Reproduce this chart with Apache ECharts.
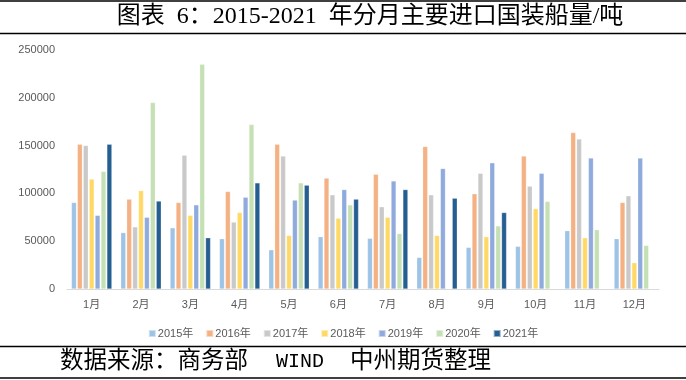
<!DOCTYPE html>
<html><head><meta charset="utf-8">
<script src="https://cdn.jsdelivr.net/npm/echarts@6/dist/echarts.min.js"></script>
<style>html,body{margin:0;padding:0;background:#fff}#c{width:686px;height:380px}</style>
</head><body><div id="c"></div>
<script>
const months = ['1月','2月','3月','4月','5月','6月','7月','8月','9月','10月','11月','12月'];
const y2015 = [90500, 59000, 64000, 52600, 41000, 54700, 53000, 33000, 43500, 44600, 61000, 52600];
const y2016 = [151500, 94000, 90500, 102000, 151500, 116000, 120000, 149000, 99600, 139000, 163600, 90500];
const y2017 = [150000, 65000, 140000, 70000, 139000, 98500, 86000, 98500, 121000, 107600, 157000, 97500];
const y2018 = [115000, 103000, 77000, 80000, 56000, 74000, 75000, 56000, 54700, 84000, 53600, 27500];
const y2019 = [77000, 75000, 88000, 96000, 93000, 104000, 113000, 126000, 132000, 121000, 137000, 137000];
const y2020 = [123000, 195000, 235000, 172000, 111000, 88000, 58000, null, 66000, 91600, 62000, 45600];
const y2021 = [151500, 92000, 53600, 111000, 108600, 94000, 104000, 95000, 80000, null, null, null];
const seriesNames = ['2015年','2016年','2017年','2018年','2019年','2020年','2021年'];
const seriesData = [y2015, y2016, y2017, y2018, y2019, y2020, y2021];
const colors = ['#9DC3E6','#F4B183','#C9C9C9','#FFD966','#8FAADC','#C5E0B4','#255E91'];
const yTicks = [0, 50000, 100000, 150000, 200000, 250000];
const titleText = '图表\u20026：2015-2021\u2002年分月主要进口国装船量/吨';
const sourceParts = ['数据来源：商务部', 'WIND', '中州期货整理'];

const chart = echarts.init(document.getElementById('c'), null, {renderer:'canvas'});
const serif = '"Liberation Serif", "Noto Sans CJK SC", serif';
const mono = '"Liberation Mono", "Noto Sans CJK SC", monospace';
const sans = '"Liberation Sans", "Noto Sans CJK SC", sans-serif';
chart.setOption({
  animation: false,
  color: colors,
  grid: {left: 67, right: 27, top: 50, bottom: 91},
  legend: {
    data: seriesNames, bottom: 36, left: 'center',
    itemWidth: 7, itemHeight: 7, itemGap: 12, icon: 'rect',
    textStyle: {fontSize: 11, color: '#595959', fontFamily: sans, padding: [0,0,0,-3]}
  },
  xAxis: {
    type: 'category', data: months,
    axisLine: {lineStyle: {color: '#D9D9D9', width: 1}},
    axisTick: {show: false},
    axisLabel: {fontSize: 11, color: '#595959', fontFamily: sans, margin: 10}
  },
  yAxis: {
    type: 'value', min: yTicks[0], max: yTicks[yTicks.length-1], interval: yTicks[1]-yTicks[0],
    splitLine: {show: false}, axisLine: {show: false}, axisTick: {show: false},
    axisLabel: {fontSize: 11, color: '#595959', fontFamily: sans, margin: 12, formatter: v => String(v)}
  },
  series: seriesNames.map((n, i) => ({
    name: n, type: 'bar', data: seriesData[i],
    barCategoryGap: '18%', barGap: '18%',
    itemStyle: {color: colors[i], borderColor: 'rgba(255,255,255,0.5)', borderWidth: 0.5}
  })),
  graphic: [
    {type: 'line', shape: {x1: 0, y1: 1, x2: 686, y2: 1}, style: {stroke: '#000', lineWidth: 1.5}},
    {type: 'text', x: 370, y: 17, style: {text: titleText, font: '24px ' + serif, fill: '#000', textAlign: 'center', textVerticalAlign: 'middle'}},
    {type: 'line', shape: {x1: 0, y1: 33.5, x2: 686, y2: 33.5}, style: {stroke: '#000', lineWidth: 1.5}},
    {type: 'line', shape: {x1: 0, y1: 346.5, x2: 686, y2: 346.5}, style: {stroke: '#000', lineWidth: 1.5}},
    {type: 'text', x: 60, y: 362, style: {text: sourceParts[0], font: '23.5px ' + serif, fill: '#000', textVerticalAlign: 'middle'}},
    {type: 'text', x: 276, y: 362, style: {text: sourceParts[1], font: '20px ' + mono, fill: '#000', textVerticalAlign: 'middle'}},
    {type: 'text', x: 350, y: 362, style: {text: sourceParts[2], font: '23.5px ' + serif, fill: '#000', textVerticalAlign: 'middle'}},
    {type: 'line', shape: {x1: 0, y1: 378, x2: 686, y2: 378}, style: {stroke: '#000', lineWidth: 1.5}}
  ]
});
</script></body></html>
